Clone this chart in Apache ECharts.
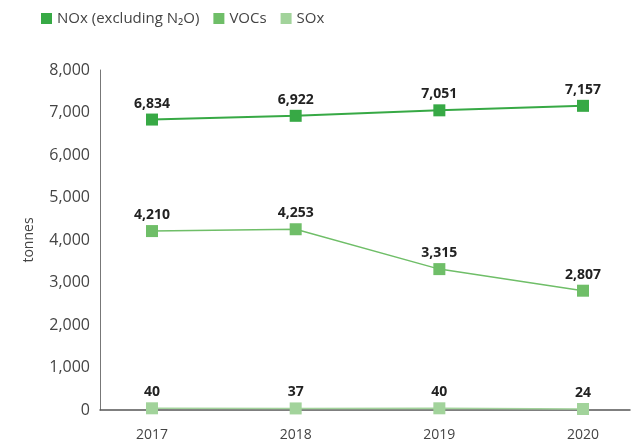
<!DOCTYPE html>
<html>
<head>
<meta charset="utf-8">
<script src="https://cdn.jsdelivr.net/npm/echarts@6/dist/echarts.min.js"></script>
<style>
  html, body { margin: 0; padding: 0; background: #fff; }
  #chart { width: 632px; height: 443px; }
</style>
</head>
<body>
<div id="chart"></div>
<script>
const years = [2017, 2018, 2019, 2020];
const noxValues = [6834, 6922, 7051, 7157];
const vocValues = [4210, 4253, 3315, 2807];
const soxValues = [40, 37, 40, 24];
const seriesNames = ['NOx (excluding N\u2082O)', 'VOCs', 'SOx'];
const yTicks = [0, 1000, 2000, 3000, 4000, 5000, 6000, 7000, 8000];

const fmt = v => v.toLocaleString('en-US');
const pairs = vals => years.map((y, i) => [y, vals[i]]);

let chart = echarts.init(document.getElementById('chart'));

function lineSeries(name, vals, color, width) {
  return {
    name: name,
    type: 'line',
    data: pairs(vals),
    symbol: 'rect',
    symbolSize: 12,
    lineStyle: { color: color, width: width },
    itemStyle: { color: color },
    label: {
      show: true,
      position: 'top',
      distance: 3,
      formatter: p => fmt(p.value[1]),
      fontFamily: 'Open Sans',
      fontWeight: 'bold',
      fontSize: 14,
      color: '#222'
    }
  };
}

let option = {
  animation: false,
  textStyle: { fontFamily: 'Open Sans' },
  legend: {
    left: 36,
    top: 6,
    itemWidth: 11,
    itemHeight: 11,
    itemGap: 14,
    icon: 'rect',
    textStyle: { fontSize: 15, color: '#444' },
    data: seriesNames
  },
  grid: { left: 100, right: 2, top: 70, bottom: 33 },
  xAxis: {
    type: 'value',
    min: 2016.638,
    max: 2020.327,
    splitLine: { show: false },
    axisTick: { show: false },
    axisLine: { lineStyle: { color: '#555', width: 1.5 } },
    axisLabel: {
      customValues: years,
      formatter: v => String(v),
      fontSize: 14,
      color: '#444',
      margin: 18
    }
  },
  yAxis: {
    type: 'value',
    min: 0,
    max: 8000,
    interval: 1000,
    name: 'tonnes',
    nameLocation: 'middle',
    nameGap: 64,
    nameTextStyle: { fontSize: 14, color: '#444' },
    splitLine: { show: false },
    axisTick: { show: false },
    axisLine: { show: true, lineStyle: { color: '#777', width: 1 } },
    axisLabel: {
      customValues: yTicks,
      formatter: v => fmt(v),
      fontSize: 16,
      color: '#444',
      margin: 10
    }
  },
  series: [
    lineSeries(seriesNames[0], noxValues, '#37a945', 2),
    lineSeries(seriesNames[1], vocValues, '#6fbe68', 1.5),
    lineSeries(seriesNames[2], soxValues, '#a2d39b', 1.5)
  ]
};
option && chart.setOption(option);
</script>
</body>
</html>
